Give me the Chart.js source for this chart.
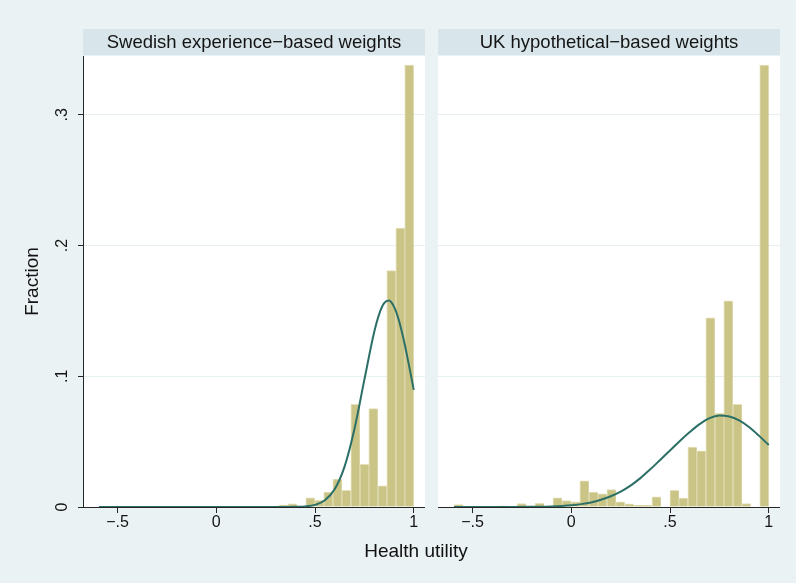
<!DOCTYPE html>
<html>
<head>
<meta charset="utf-8">
<script src="https://cdn.jsdelivr.net/npm/chart.js@4.4.1/dist/chart.umd.min.js"></script>
<style>
html, body { margin:0; padding:0; width:796px; height:583px; overflow:hidden; background:#EAF2F3; }
canvas { position:absolute; top:0; }
#c1 { left:0; }
#c2 { left:438px; }
#xtitle { position:absolute; left:316px; width:200px; top:540px; text-align:center;
  font-family:"Liberation Sans", Arial, sans-serif; font-size:19px; line-height:22px; color:#111; }
</style>
</head>
<body>
<canvas id="c1" width="425" height="583"></canvas>
<canvas id="c2" width="342" height="583"></canvas>
<div id="xtitle">Health utility</div>
<script>
// ---------- DATA ----------
const panelTitles = ['Swedish experience\u2212based weights', 'UK hypothetical\u2212based weights'];
const xTitle = 'Health utility';
const yTitle = 'Fraction';
const xTickValues = [-0.5, 0, 0.5, 1];
const yTickValues = [0, 0.1, 0.2, 0.3];

// histogram bin centres (35 bins, width ~0.0455, from -0.594 to 1)
const binCenters = [-0.571, -0.526, -0.480, -0.435, -0.389, -0.344, -0.298, -0.252, -0.207, -0.161,
  -0.116, -0.070, -0.025, 0.021, 0.066, 0.112, 0.157, 0.203, 0.248, 0.294,
  0.340, 0.385, 0.431, 0.476, 0.522, 0.567, 0.613, 0.658, 0.704, 0.750,
  0.795, 0.841, 0.886, 0.932, 0.977];

const swedishFraction = [0, 0, 0, 0, 0, 0, 0, 0, 0, 0,
  0, 0, 0, 0, 0, 0, 0, 0, 0, 0,
  0.0015, 0.0025, 0, 0.0071, 0.0051, 0.0115, 0.0214, 0.0128, 0.0786, 0.0326,
  0.0752, 0.0161, 0.1808, 0.2133, 0.3380];

const ukFraction = [0.0018, 0, 0, 0, 0, 0.0008, 0, 0.0027, 0, 0.0028,
  0, 0.0070, 0.0050, 0.0040, 0.0200, 0.0115, 0.0100, 0.0133, 0.0040, 0.0024,
  0.0013, 0.0013, 0.0077, 0, 0.0128, 0.0069, 0.0458, 0.0430, 0.1448, 0.0717,
  0.1578, 0.0785, 0.0026, 0, 0.3380];

// normal-density overlays (scaled to fraction), read at these utility values
const swedishCurveX = [-0.594, 0, 0.3, 0.35, 0.4, 0.45, 0.5, 0.55, 0.6, 0.65, 0.7, 0.75, 0.8, 0.825, 0.85, 0.875, 0.9, 0.925, 0.95, 0.975, 1.0];
const swedishCurveY = [0, 0, 0, 0, 0.0001, 0.0004, 0.0016, 0.0051, 0.0137, 0.0311, 0.0599, 0.0974, 0.1340, 0.1476, 0.1559, 0.1580, 0.1533, 0.1427, 0.1274, 0.1091, 0.0896];

const ukCurveX = [-0.594, -0.5, -0.4, -0.3, -0.2, -0.1, 0, 0.05, 0.1, 0.15, 0.2, 0.25, 0.3, 0.35, 0.4, 0.45, 0.5, 0.55, 0.6, 0.65, 0.7, 0.75, 0.8, 0.85, 0.9, 0.95, 1.0];
const ukCurveY = [0, 0, 0, 0, 0.0001, 0.0004, 0.0013, 0.0022, 0.0035, 0.0055, 0.0082, 0.0118, 0.0164, 0.0221, 0.0288, 0.0360, 0.0432, 0.0505, 0.0573, 0.0634, 0.0680, 0.0700, 0.0692, 0.0662, 0.0612, 0.0546, 0.0474];

// ---------- STYLE ----------
const FONT = '"Liberation Sans", Arial, Helvetica, sans-serif';
const TEXT = '#141414';
const AXIS = '#262626';
const GRID = '#E6EFF1';
const STRIP = '#D8E5EA';
const BAR = '#CBC487';
const BAR_EDGE = '#E4E0B8';
const CURVE = '#2B6F66';

function fmt(v) {
  v = Math.round(v * 1000) / 1000;
  if (v === 0) return '0';
  let s = String(Math.abs(v));
  if (s.startsWith('0')) s = s.slice(1);
  return (v < 0 ? '\u2212' : '') + s;
}

const panelPlugin = {
  id: 'panel',
  beforeDraw(chart, args, opts) {
    const { ctx, chartArea: a } = chart;
    ctx.save();
    ctx.fillStyle = '#FFFFFF';
    ctx.fillRect(a.left, a.top, a.right - a.left, a.bottom - a.top);
    ctx.fillStyle = STRIP;
    ctx.fillRect(a.left, 29, a.right - a.left, 26);
    ctx.fillStyle = TEXT;
    ctx.font = '18.5px ' + FONT;
    ctx.textAlign = 'center';
    ctx.textBaseline = 'middle';
    ctx.fillText(opts.title, (a.left + a.right) / 2, 42.5);
    ctx.restore();
  },
  afterDraw(chart, args, opts) {
    if (!opts.yLabels) return;
    const { ctx } = chart;
    const ys = chart.scales.y;
    ctx.save();
    ctx.fillStyle = TEXT;
    ctx.font = '16px ' + FONT;
    ctx.textAlign = 'center';
    ctx.textBaseline = 'middle';
    ys.ticks.forEach(t => {
      const py = ys.getPixelForValue(t.value);
      ctx.save();
      ctx.translate(63, py);
      ctx.rotate(-Math.PI / 2);
      ctx.fillText(fmt(t.value), 0, 0);
      ctx.restore();
    });
    ctx.restore();
  }
};

function makeChart(id, title, fractions, cx, cy, isLeft) {
  return new Chart(document.getElementById(id), {
    type: 'bar',
    data: {
      datasets: [
        {
          type: 'line',
          data: cx.map((x, i) => ({ x: x, y: cy[i] })),
          borderColor: CURVE,
          borderWidth: 2,
          pointRadius: 0,
          fill: false,
          cubicInterpolationMode: 'monotone',
          order: 0
        },
        {
          type: 'bar',
          data: binCenters.map((x, i) => ({ x: x, y: fractions[i] })),
          backgroundColor: BAR,
          borderColor: BAR_EDGE,
          borderWidth: { top: 1, left: 1, right: 0, bottom: 0 },
          barPercentage: 1,
          categoryPercentage: 1,
          order: 1
        }
      ]
    },
    options: {
      responsive: false,
      animation: false,
      devicePixelRatio: 1,
      layout: { padding: { top: 56, left: 0, right: 0, bottom: 0 } },
      plugins: {
        legend: { display: false },
        tooltip: { enabled: false },
        panel: { title: title, yLabels: isLeft }
      },
      scales: {
        x: {
          type: 'linear',
          min: -0.675,
          max: 1.057,
          offset: false,
          border: { display: true, color: AXIS, width: 1 },
          grid: { offset: false, drawOnChartArea: false, drawTicks: true, tickLength: 6, tickColor: AXIS },
          afterBuildTicks(s) { s.ticks = xTickValues.map(v => ({ value: v })); },
          ticks: {
            padding: 0,
            color: TEXT,
            font: { family: FONT, size: 16 },
            maxRotation: 0,
            autoSkip: false,
            callback: v => fmt(v)
          },
          afterFit(s) { s.height = 76; }
        },
        y: {
          type: 'linear',
          min: 0,
          max: 0.345,
          border: { display: isLeft, color: AXIS, width: 1 },
          grid: {
            color: c => (c.tick && c.tick.value === 0) ? 'rgba(0,0,0,0)' : GRID,
            lineWidth: 1,
            drawTicks: isLeft,
            tickLength: 5,
            tickColor: AXIS
          },
          afterBuildTicks(s) { s.ticks = yTickValues.map(v => ({ value: v })); },
          ticks: { display: false },
          title: {
            display: isLeft,
            text: yTitle,
            color: TEXT,
            font: { family: FONT, size: 19 },
            padding: { top: 21, bottom: 0 }
          },
          afterFit(s) { s.width = isLeft ? 83 : 0; }
        }
      }
    },
    plugins: [panelPlugin]
  });
}

makeChart('c1', panelTitles[0], swedishFraction, swedishCurveX, swedishCurveY, true);
makeChart('c2', panelTitles[1], ukFraction, ukCurveX, ukCurveY, false);
document.getElementById('xtitle').textContent = xTitle;
</script>
</body>
</html>
